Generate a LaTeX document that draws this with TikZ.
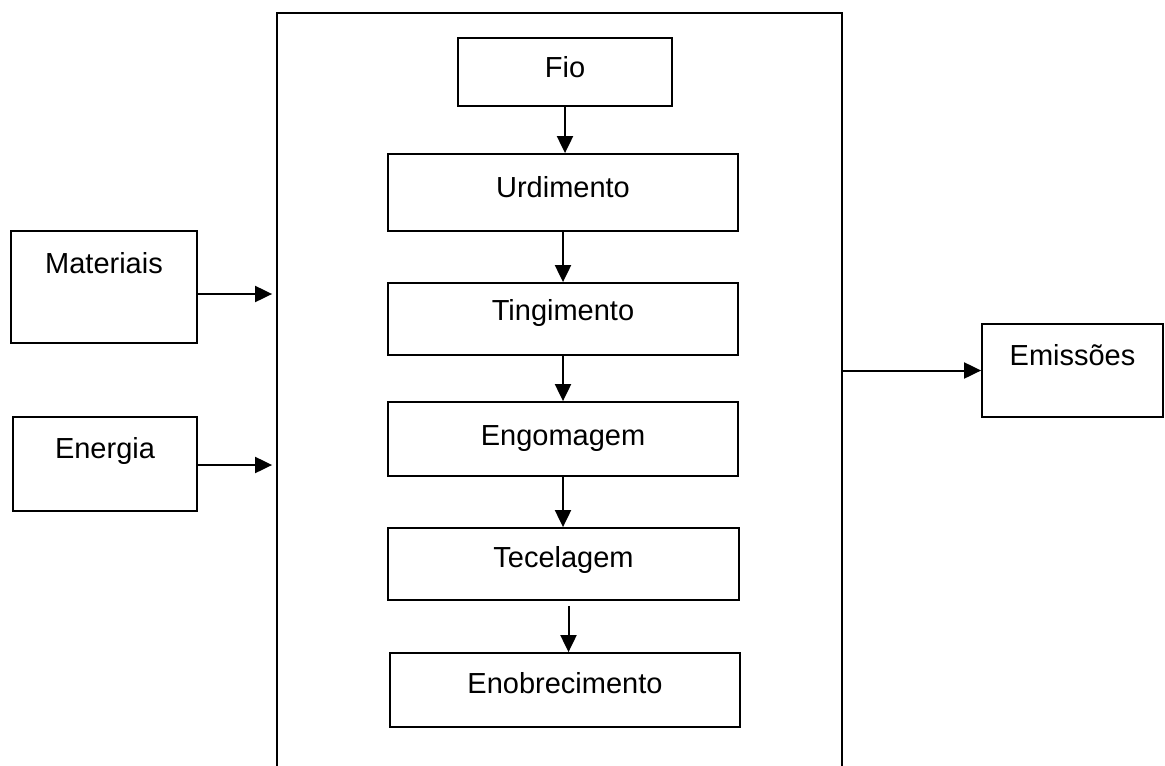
\documentclass[tikz,border=0pt]{standalone}
\usepackage{fontspec}
\setmainfont{Liberation Sans}
\usetikzlibrary{arrows.meta}

\begin{document}
\begin{tikzpicture}[x=0.5pt,y=-0.5pt,
  box/.style={draw,line width=0.9pt,inner sep=0pt,font=\fontsize{14.5}{17}\selectfont,text height=10.4pt},
  flow/.style={-{Triangle[length=8.5pt,width=8pt]},line width=1pt}]
  \useasboundingbox (0,0) rectangle (1165,765);
  \node[box,minimum width=282.5pt,minimum height=393.5pt] (plant) at (559.5,406.5) {};
  \node[box,minimum width=107pt,minimum height=34pt,text depth=5pt] (fio) at (565,72) {Fio};
  \node[box,minimum width=175pt,minimum height=38.5pt,text depth=5.5pt] (urd) at (563,192.5) {Urdimento};
  \node[box,minimum width=175pt,minimum height=36pt,text depth=9pt] (ting) at (563,319) {Tingimento};
  \node[box,minimum width=175pt,minimum height=37pt,text depth=4pt] (engo) at (563,439) {Engomagem};
  \node[box,minimum width=175.5pt,minimum height=36pt,text depth=7pt] (tece) at (563.5,564) {Tecelagem};
  \node[box,minimum width=175pt,minimum height=37pt,text depth=7pt] (enob) at (565,690) {Enobrecimento};
  \node[box,minimum width=93pt,minimum height=56pt,text depth=24pt] (mat) at (104,287) {Materiais};
  \node[box,minimum width=92pt,minimum height=47pt,text depth=16pt] (ener) at (105,464) {Energia};
  \node[box,minimum width=90.5pt,minimum height=46.5pt,text depth=15pt] (emis) at (1072.5,370.5) {Emissões};
  \draw[flow] (fio.south) -- (fio.south |- urd.north);
  \draw[flow] (urd.south) -- (urd.south |- ting.north);
  \draw[flow] (ting.south) -- (ting.south |- engo.north);
  \draw[flow] (engo.south) -- (engo.south |- tece.north);
  \draw[flow,shorten <=2.5pt] ([xshift=2.5pt]tece.south) -- ([xshift=2.5pt]tece.south |- enob.north);
  \draw[flow,shorten >=2pt] ([yshift=-3.5pt]mat.east) -- ([yshift=-3.5pt]mat.east -| plant.west);
  \draw[flow,shorten >=2pt] ([yshift=-0.5pt]ener.east) -- ([yshift=-0.5pt]ener.east -| plant.west);
  \draw[flow] (plant.east |- emis.west) -- (emis.west);
\end{tikzpicture}
\end{document}
